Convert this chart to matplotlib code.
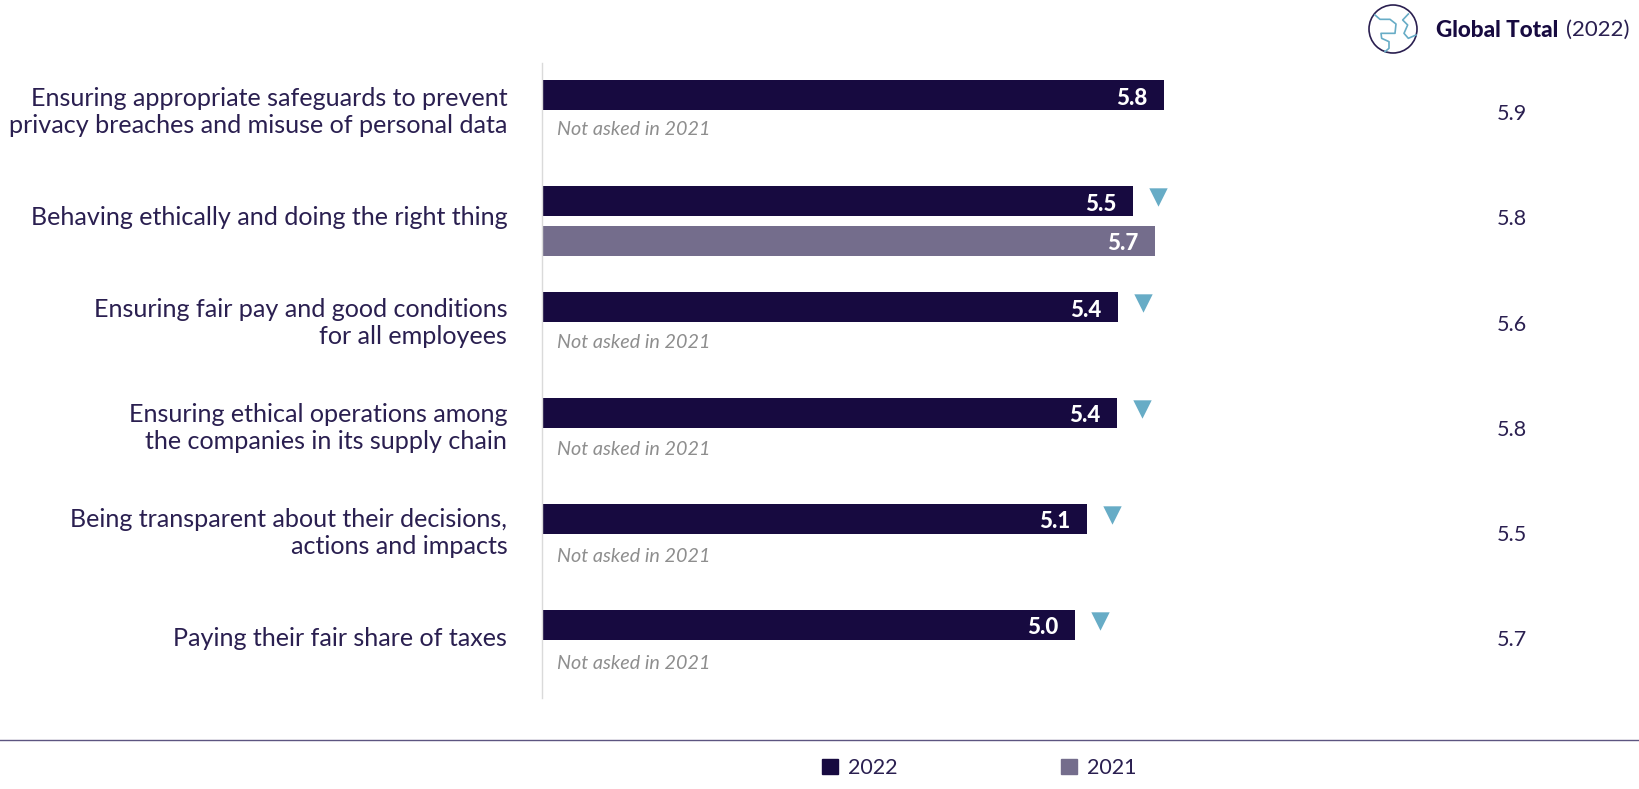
import matplotlib
matplotlib.use("Agg")
import matplotlib.pyplot as plt
from matplotlib.patches import Patch, Circle

categories = [
    "Ensuring appropriate safeguards to prevent\nprivacy breaches and misuse of personal data",
    "Behaving ethically and doing the right thing",
    "Ensuring fair pay and good conditions\nfor all employees",
    "Ensuring ethical operations among\nthe companies in its supply chain",
    "Being transparent about their decisions,\nactions and impacts",
    "Paying their fair share of taxes",
]
values_2022 = [5.80, 5.51, 5.37, 5.36, 5.08, 4.97]
values_2021 = [None, 5.72, None, None, None, None]
global_total = [5.9, 5.8, 5.6, 5.8, 5.5, 5.7]
decline_flag = [False, True, True, True, True, True]

NAVY = "#170A40"
PURPLE = "#746D8C"
TEAL = "#67ACC6"
TEXT = "#2A1F50"
GREY = "#8E8E8E"
plt.rcParams["font.family"] = ["Lato", "DejaVu Sans"]

W, H = 1640, 789
fig = plt.figure(figsize=(W / 100, H / 100), dpi=100, facecolor="white")

ov = fig.add_axes([0, 0, 1, 1])
ov.set_xlim(0, W)
ov.set_ylim(H, 0)
ov.axis("off")

left, top, bottom = 542, 63, 698
ax = fig.add_axes([left / W, 1 - bottom / H, (W - left) / W, (bottom - top) / H])
ax.patch.set_alpha(0)
ax.set_xlim(0, (W - left) / 107.2)
ax.set_ylim(len(categories) - 0.5, -0.5)
for s in ["top", "right", "bottom"]:
    ax.spines[s].set_visible(False)
ax.spines["left"].set_color("#DADADA")
ax.spines["left"].set_linewidth(1)
ax.set_xticks([])
ax.set_yticks([])

BAR_H = 0.283
OFF_22 = -0.194
OFF_21 = 0.18
for i, cat in enumerate(categories):
    v22 = values_2022[i]
    v21 = values_2021[i]
    y22 = i + OFF_22
    ax.barh(y22, v22, height=BAR_H, color=NAVY)
    ax.annotate(f"{v22:.1f}", (v22, y22 + 0.01), xytext=(-12, 0), textcoords="offset points",
                ha="right", va="center_baseline", color="white", fontsize=16, fontweight="black")
    if v21 is not None:
        ax.barh(i + OFF_21, v21, height=BAR_H, color=PURPLE)
        ax.annotate(f"{v21:.1f}", (v21, i + OFF_21 + 0.01), xytext=(-12, 0), textcoords="offset points",
                    ha="right", va="center_baseline", color="white", fontsize=16, fontweight="black")
    else:
        ax.annotate("Not asked in 2021", (0, i + 0.125 + 0.01 * i), xytext=(11, 0), textcoords="offset points",
                    ha="left", va="center", color=GREY, fontsize=14.2, style="italic")
    if decline_flag[i]:
        ax.scatter([v22 + 0.235], [i - 0.23], marker="v", s=175, color=TEAL, linewidths=0, clip_on=False)
    ax.annotate(cat, (0, i - 0.035 - 0.006 * i), xytext=(-25, 0), textcoords="offset points",
                ha="right", va="center", color=TEXT, fontsize=18.1,
                linespacing=1.22, annotation_clip=False)
    ax.annotate(f"{global_total[i]:.1f}", (9.05, i - 0.015 - 0.007 * i), ha="center", va="center",
                color=TEXT, fontsize=15.5, annotation_clip=False)

ov.add_patch(Circle((1393, 29), 24, fill=False, ec=TEXT, lw=1.2))
icon_a = [(105, 45), (120, 58), (150, 58), (168, 72), (165, 100), (123, 100), (125, 115), (147, 125), (147, 145), (135, 155)]
icon_b = [(205, 42), (188, 60), (203, 75), (192, 100), (205, 115), (228, 105)]
for path in (icon_a, icon_b):
    ov.plot([1340 + p[0] / 3 for p in path], [p[1] / 3 for p in path], color=TEAL, lw=1.2)
ov.text(1436, 30, "Global Total", ha="left", va="center", fontsize=16.2, fontweight="black", color=NAVY)
ov.text(1630, 30, "(2022)", ha="right", va="center", fontsize=16, color=TEXT)

ov.plot([0, W], [740, 740], color="#5C5580", lw=1)
handles = [Patch(color=NAVY, label="2022"), Patch(color=PURPLE, label="2021")]
fs = 15.5
fig.legend(handles=handles, ncol=2, loc="center left", bbox_to_anchor=(822 / W, 1 - 768 / H),
           frameon=False, labelcolor=TEXT, handlelength=0.75, handleheight=0.75,
           handletextpad=0.45, columnspacing=7.6, borderpad=0, borderaxespad=0,
           prop={"size": fs})

fig.savefig("out.png", dpi=100)
